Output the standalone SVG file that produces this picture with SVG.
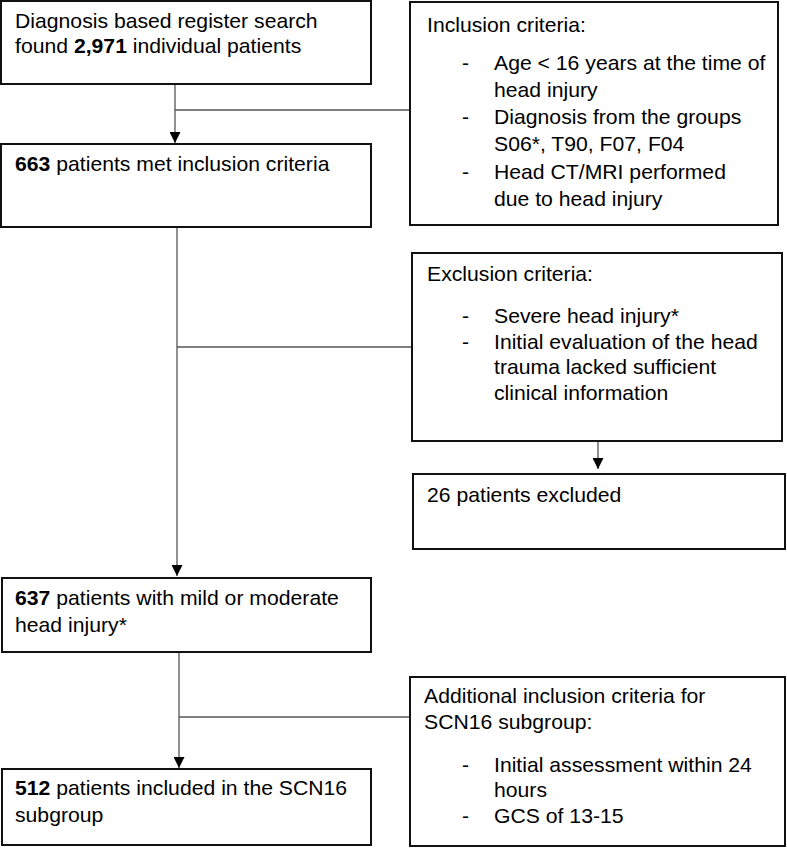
<svg xmlns="http://www.w3.org/2000/svg" width="787" height="848" viewBox="0 0 787 848">
<style>
.t { font-family: "Liberation Sans", Arial, sans-serif; font-size: 20px; fill: #000; }
.b { font-weight: bold; }
.box { fill: #fff; stroke: #111; stroke-width: 2; }
.ln { stroke: #555; stroke-width: 1.3; fill: none; }
.ar { marker-end: url(#ah); }
</style>
<defs>
<marker id="ah" markerUnits="userSpaceOnUse" markerWidth="11" markerHeight="11" refX="11" refY="5.5" orient="auto">
<path d="M0,0 L11,5.5 L0,11 z" fill="#000"/>
</marker>
</defs>
<rect width="787" height="848" fill="#fff"/>
<g id="connectors">
<line class="ln ar" x1="175" y1="85" x2="175" y2="143"/>
<line class="ln" x1="175" y1="110" x2="409" y2="110"/>
<line class="ln ar" x1="177" y1="227" x2="177" y2="576"/>
<line class="ln" x1="177" y1="347" x2="411" y2="347"/>
<line class="ln ar" x1="598" y1="441" x2="598" y2="469"/>
<line class="ln ar" x1="179" y1="652" x2="179" y2="768"/>
<line class="ln" x1="179" y1="717" x2="409" y2="717"/>
</g>
<g id="n1">
<rect class="box" x="1" y="1" width="370" height="83"/>
<text class="t" transform="translate(15,28) scale(1.06,1)">Diagnosis based register search</text>
<text class="t" transform="translate(15,53) scale(1.06,1)">found <tspan class="b">2,971</tspan> individual patients</text>
</g>
<g id="n2">
<rect class="box" x="1" y="144" width="370" height="83"/>
<text class="t" transform="translate(15,171) scale(1.06,1)"><tspan class="b">663</tspan> patients met inclusion criteria</text>
</g>
<g id="inclusion">
<rect class="box" x="410" y="2" width="368" height="223"/>
<text class="t" transform="translate(427,32) scale(1.06,1)">Inclusion criteria:</text>
<text class="t" transform="translate(462,70) scale(1.06,1)">-</text>
<text class="t" transform="translate(494,70) scale(1.06,1)">Age &lt; 16 years at the time of</text>
<text class="t" transform="translate(494,97) scale(1.06,1)">head injury</text>
<text class="t" transform="translate(462,124) scale(1.06,1)">-</text>
<text class="t" transform="translate(494,124) scale(1.06,1)">Diagnosis from the groups</text>
<text class="t" transform="translate(494,151) scale(1.06,1)">S06*, T90, F07, F04</text>
<text class="t" transform="translate(462,179) scale(1.06,1)">-</text>
<text class="t" transform="translate(494,179) scale(1.06,1)">Head CT/MRI performed</text>
<text class="t" transform="translate(494,206) scale(1.06,1)">due to head injury</text>
</g>
<g id="exclusion">
<rect class="box" x="412" y="253" width="370" height="188"/>
<text class="t" transform="translate(427,281) scale(1.06,1)">Exclusion criteria:</text>
<text class="t" transform="translate(462,323) scale(1.06,1)">-</text>
<text class="t" transform="translate(494,323) scale(1.06,1)">Severe head injury*</text>
<text class="t" transform="translate(462,349) scale(1.06,1)">-</text>
<text class="t" transform="translate(494,349) scale(1.06,1)">Initial evaluation of the head</text>
<text class="t" transform="translate(494,374) scale(1.06,1)">trauma lacked sufficient</text>
<text class="t" transform="translate(494,400) scale(1.06,1)">clinical information</text>
</g>
<g id="excluded">
<rect class="box" x="413" y="474" width="372" height="75"/>
<text class="t" transform="translate(427,502) scale(1.06,1)">26 patients excluded</text>
</g>
<g id="n3">
<rect class="box" x="2" y="578" width="369" height="74"/>
<text class="t" transform="translate(15,605) scale(1.06,1)"><tspan class="b">637</tspan> patients with mild or moderate</text>
<text class="t" transform="translate(15,632) scale(1.06,1)">head injury*</text>
</g>
<g id="additional">
<rect class="box" x="410" y="677" width="375" height="169"/>
<text class="t" transform="translate(424,703) scale(1.06,1)">Additional inclusion criteria for</text>
<text class="t" transform="translate(424,729) scale(1.06,1)">SCN16 subgroup:</text>
<text class="t" transform="translate(462,772) scale(1.06,1)">-</text>
<text class="t" transform="translate(494,772) scale(1.06,1)">Initial assessment within 24</text>
<text class="t" transform="translate(494,797) scale(1.06,1)">hours</text>
<text class="t" transform="translate(462,823) scale(1.06,1)">-</text>
<text class="t" transform="translate(494,823) scale(1.06,1)">GCS of 13-15</text>
</g>
<g id="n4">
<rect class="box" x="2" y="769" width="369" height="76"/>
<text class="t" transform="translate(15,795) scale(1.06,1)"><tspan class="b">512</tspan> patients included in the SCN16</text>
<text class="t" transform="translate(15,822) scale(1.06,1)">subgroup</text>
</g>
</svg>
